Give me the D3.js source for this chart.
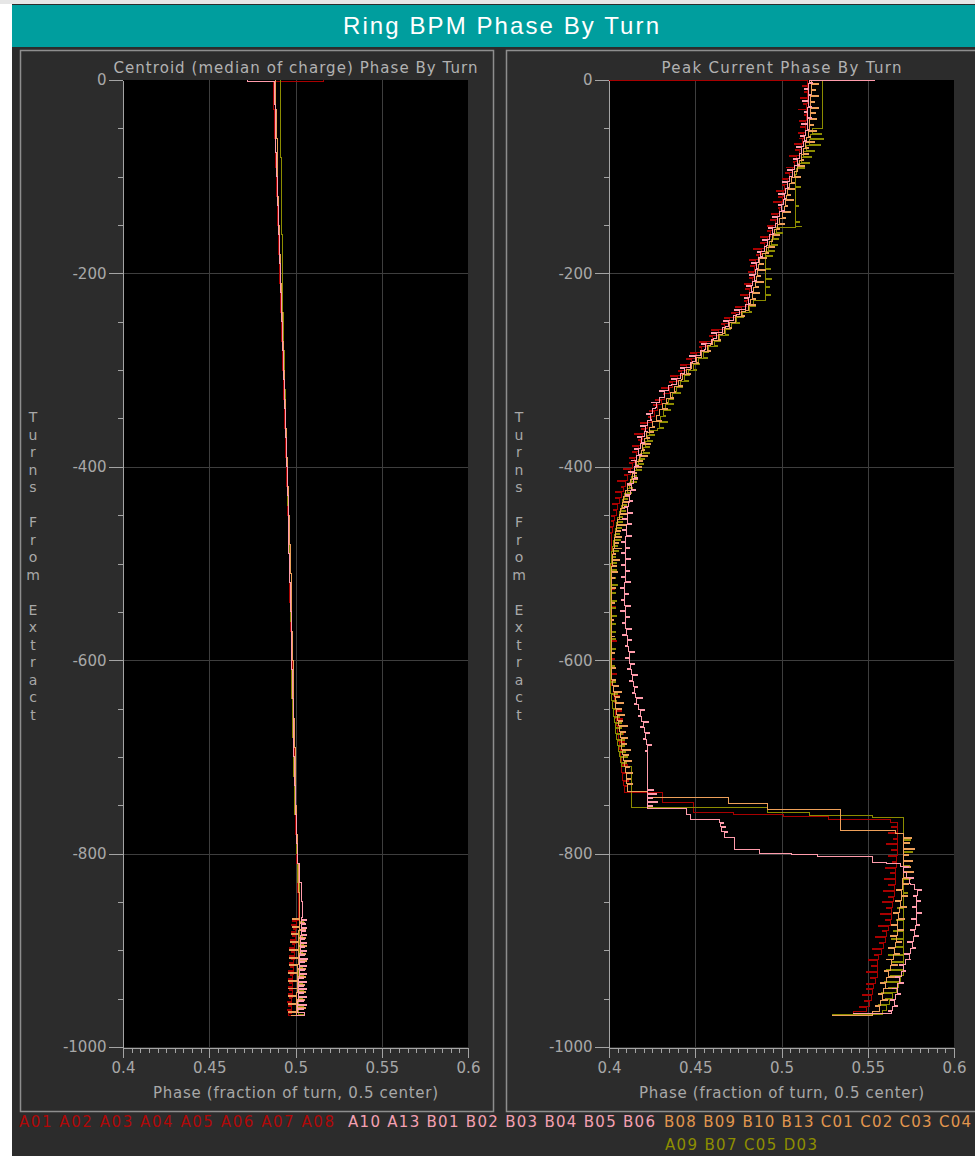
<!DOCTYPE html>
<html>
<head>
<meta charset="utf-8">
<script src="https://cdn.jsdelivr.net/npm/d3@7"></script>
<style>
  body { margin: 0; background: #ffffff; }
  svg { display: block; }
</style>
</head>
<body>
<svg id="chart" width="975" height="1156"></svg>
<script>
// ---- Labels ----
const mainTitle = "Ring BPM Phase By Turn";
const panelTitles = ["Centroid (median of charge) Phase By Turn", "Peak Current Phase By Turn"];
const xAxisTitle = "Phase (fraction of turn, 0.5 center)";
const yAxisTitle = "Turns From Extract";
const phaseTicks = [0.4, 0.45, 0.5, 0.55, 0.6];
const turnTicks = [0, -200, -400, -600, -800, -1000];

// ---- BPM groups (legend) ----
const redBpms = ["A01", "A02", "A03", "A04", "A05", "A06", "A07", "A08"];
const pinkBpms = ["A10", "A13", "B01", "B02", "B03", "B04", "B05", "B06"];
const orangeBpms = ["B08", "B09", "B10", "B13", "C01", "C02", "C03", "C04"];
const oliveBpms = ["A09", "B07", "C05", "D03"];

// ---- Centroid phase by turn: [turn, phase], each phase held until the next listed turn ----
const centroidRed = [[0,.516],[-2,.4872],[-30,.4876],[-60,.4882],[-90,.4888],[-120,.4894],[-150,.4900],[-180,.4906],[-210,.4912],[-240,.4918],[-270,.4925],[-300,.4932],[-330,.4938],[-360,.4944],[-390,.4950],[-420,.4955],[-450,.4960],[-480,.4964],[-510,.4968],[-540,.4972],[-570,.4976],[-600,.4980],[-630,.4984],[-660,.4988],[-690,.4992],[-720,.4997],[-750,.5002],[-780,.5007],[-810,.5012],[-840,.5016],[-866,.5015],[-869,.4985],[-870,.5005],[-873,.4975],[-874,.5005],[-877,.499],[-878,.5],[-881,.4975],[-882,.5],[-885,.4985],[-886,.4998],[-889,.497],[-890,.4998],[-893,.498],[-894,.4995],[-897,.4968],[-898,.4995],[-901,.4978],[-902,.4993],[-905,.4965],[-906,.4993],[-909,.4975],[-910,.499],[-913,.4963],[-914,.499],[-917,.4972],[-918,.4988],[-921,.4962],[-922,.4988],[-925,.497],[-926,.4985],[-929,.496],[-930,.4985],[-933,.4968],[-934,.4983],[-937,.4958],[-938,.4983],[-941,.4966],[-942,.498],[-945,.4957],[-946,.498],[-949,.4965],[-950,.4978],[-953,.4956],[-954,.4978],[-957,.4962],[-958,.4975],[-961,.4956],[-962,.4975],[-965,.496],[-967,.4985]];
const centroidPink = [[0,.4719],[-2,.4878],[-25,.4882],[-50,.4886],[-75,.4890],[-100,.4895],[-130,.4900],[-160,.4906],[-190,.4912],[-220,.4918],[-250,.4924],[-280,.4930],[-310,.4936],[-340,.4942],[-370,.4948],[-400,.4954],[-430,.4958],[-460,.4962],[-490,.4967],[-520,.4971],[-550,.4975],[-580,.4979],[-610,.4983],[-640,.4987],[-670,.4991],[-700,.4995],[-730,.5000],[-760,.5006],[-790,.5012],[-810,.5024],[-830,.5032],[-850,.5038],[-866,.5035],[-868,.5062],[-869,.5035],[-872,.5058],[-873,.5034],[-876,.5066],[-877,.5033],[-880,.5056],[-881,.5032],[-884,.5064],[-885,.5031],[-888,.5055],[-889,.503],[-892,.5066],[-893,.5029],[-896,.5054],[-897,.5028],[-900,.5065],[-901,.5027],[-904,.5053],[-905,.5026],[-908,.5067],[-909,.5025],[-912,.5052],[-913,.5024],[-916,.5066],[-917,.5023],[-920,.505],[-921,.5022],[-924,.5065],[-925,.5021],[-928,.5049],[-929,.502],[-932,.5064],[-933,.5019],[-936,.5047],[-937,.5018],[-940,.5063],[-941,.5017],[-944,.5046],[-945,.5016],[-948,.5062],[-949,.5015],[-952,.5045],[-953,.5014],[-956,.5061],[-957,.5013],[-960,.5044],[-961,.5012],[-964,.5055],[-967,.5005]];
const centroidOrange = [[0,.4885],[-30,.4888],[-60,.4893],[-90,.4898],[-120,.4903],[-150,.4908],[-180,.4914],[-210,.4920],[-240,.4926],[-270,.4932],[-300,.4938],[-330,.4944],[-360,.4950],[-390,.4955],[-420,.4960],[-450,.4965],[-480,.4970],[-510,.4974],[-540,.4978],[-570,.4982],[-600,.4986],[-630,.4990],[-660,.4994],[-690,.4998],[-720,.5002],[-750,.5007],[-780,.5012],[-810,.5017],[-840,.5022],[-866,.5024],[-867,.4985],[-868,.5022],[-871,.5055],[-872,.5022],[-875,.498],[-876,.5021],[-879,.506],[-880,.502],[-883,.4975],[-884,.502],[-887,.5058],[-888,.5019],[-891,.497],[-892,.5018],[-895,.5062],[-896,.5018],[-899,.4968],[-900,.5017],[-903,.5057],[-904,.5016],[-907,.4965],[-908,.5015],[-911,.5062],[-912,.5015],[-915,.4963],[-916,.5014],[-919,.5056],[-920,.5013],[-923,.4962],[-924,.5012],[-927,.506],[-928,.5011],[-931,.496],[-932,.501],[-935,.5055],[-936,.501],[-939,.4958],[-940,.5009],[-943,.5058],[-944,.5008],[-947,.4957],[-948,.5007],[-951,.5054],[-952,.5006],[-955,.4957],[-956,.5005],[-959,.5056],[-960,.5004],[-963,.4958],[-964,.5003],[-967,.4975]];
const centroidOlive = [[0,.4915],[-40,.4915],[-80,.4918],[-120,.4920],[-160,.4922],[-200,.4925],[-240,.4930],[-280,.4935],[-320,.4940],[-360,.4946],[-400,.4952],[-440,.4958],[-480,.4964],[-520,.4969],[-560,.4974],[-600,.4979],[-640,.4984],[-680,.4989],[-720,.4994],[-760,.5003],[-800,.5012],[-830,.5022],[-866,.5026],[-870,.5045],[-871,.5026],[-878,.505],[-879,.5025],[-886,.5043],[-887,.5024],[-894,.5048],[-895,.5023],[-902,.5042],[-903,.5022],[-910,.5047],[-911,.5021],[-918,.5041],[-919,.502],[-926,.5046],[-927,.5019],[-934,.504],[-935,.5018],[-942,.5045],[-943,.5017],[-950,.5039],[-951,.5016],[-958,.5044],[-959,.5015],[-966,.505]];

// ---- Peak current phase by turn: [turn, phase], each phase held until the next listed turn ----
const peakRed = [[0,.400],[-1,.5153],[-6,.5121],[-7,.5151],[-12,.5134],[-13,.5149],[-18,.5108],[-19,.5148],[-24,.5127],[-25,.5147],[-30,.51],[-31,.5145],[-36,.5134],[-37,.5144],[-42,.5107],[-43,.5142],[-48,.5113],[-49,.5138],[-54,.51],[-55,.513],[-60,.5107],[-61,.5122],[-66,.5074],[-67,.5114],[-72,.5082],[-73,.5102],[-78,.5044],[-79,.5089],[-84,.5067],[-85,.5077],[-90,.5028],[-91,.5063],[-96,.5023],[-97,.5048],[-102,.5003],[-103,.5033],[-108,.5003],[-109,.5018],[-114,.4971],[-115,.5011],[-120,.4985],[-121,.5005],[-126,.4953],[-127,.4998],[-132,.4981],[-133,.4991],[-138,.4942],[-139,.4977],[-144,.4939],[-145,.4964],[-150,.492],[-151,.495],[-156,.4919],[-157,.4934],[-162,.4878],[-163,.4918],[-168,.4881],[-169,.4901],[-174,.4838],[-175,.4883],[-180,.4854],[-181,.4864],[-186,.4815],[-187,.485],[-192,.4819],[-193,.4844],[-198,.4808],[-199,.4838],[-204,.4816],[-205,.4831],[-210,.4783],[-211,.4823],[-216,.4794],[-217,.4814],[-222,.476],[-223,.4805],[-228,.4787],[-229,.4797],[-234,.4735],[-235,.477],[-240,.4709],[-241,.4734],[-246,.467],[-247,.47],[-252,.4652],[-253,.4667],[-258,.4594],[-259,.4634],[-264,.4581],[-265,.4601],[-270,.4523],[-271,.4568],[-276,.4525],[-277,.4535],[-282,.4471],[-283,.4506],[-288,.4452],[-289,.4477],[-294,.4417],[-295,.4447],[-300,.4403],[-301,.4418],[-306,.4355],[-307,.4395],[-312,.4351],[-313,.4371],[-318,.4303],[-319,.4348],[-324,.4314],[-325,.4324],[-330,.4269],[-331,.4304],[-336,.4259],[-337,.4284],[-342,.4234],[-343,.4264],[-348,.4229],[-349,.4244],[-354,.4185],[-355,.4225],[-360,.4186],[-361,.4206],[-366,.4149],[-367,.4194],[-372,.4173],[-373,.4183],[-378,.4137],[-379,.4172],[-384,.4135],[-385,.416],[-390,.4118],[-391,.4148],[-396,.4121],[-397,.4136],[-402,.4084],[-403,.4124],[-408,.409],[-409,.411],[-414,.4052],[-415,.4097],[-420,.4074],[-421,.4084],[-426,.4035],[-427,.407],[-432,.4035],[-433,.406],[-438,.4021],[-439,.4051],[-444,.4027],[-445,.4042],[-450,.4013],[-451,.4033],[-456,.4012],[-457,.4027],[-462,.4008],[-463,.4021],[-468,.4005],[-469,.4017],[-474,.4012],[-490,.4035],[-491,.4012],[-508,.4045],[-509,.4012],[-526,.403],[-527,.401],[-544,.404],[-545,.401],[-562,.403],[-563,.401],[-580,.4045],[-581,.4012],[-598,.403],[-599,.4012],[-614,.4045],[-615,.4015],[-626,.405],[-627,.4025],[-636,.406],[-637,.403],[-644,.407],[-645,.4035],[-652,.4075],[-653,.404],[-660,.408],[-661,.4045],[-668,.408],[-669,.405],[-676,.4085],[-677,.4055],[-684,.409],[-685,.406],[-692,.4095],[-693,.4065],[-700,.41],[-701,.407],[-708,.4105],[-709,.4075],[-716,.411],[-717,.408],[-724,.4115],[-725,.4085],[-730,.411],[-731,.409],[-737,.431],[-747,.449],[-757,.472],[-760,.501],[-762,.527],[-765,.563],[-768,.567],[-772,.564],[-773,.567],[-778,.562],[-779,.567],[-784,.565],[-785,.567],[-790,.561],[-791,.567],[-796,.564],[-797,.567],[-802,.562],[-803,.5665],[-808,.5645],[-809,.5665],[-814,.5605],[-815,.566],[-820,.563],[-821,.566],[-826,.5595],[-827,.566],[-832,.562],[-833,.5655],[-838,.559],[-839,.5655],[-844,.562],[-845,.565],[-850,.5585],[-851,.5645],[-856,.561],[-857,.564],[-862,.5575],[-863,.5635],[-868,.560],[-869,.563],[-874,.556],[-875,.562],[-880,.5585],[-881,.561],[-886,.5545],[-887,.560],[-892,.557],[-893,.559],[-898,.553],[-899,.558],[-904,.554],[-905,.5565],[-910,.5505],[-911,.5555],[-916,.552],[-917,.5555],[-922,.549],[-923,.5555],[-928,.5515],[-929,.5545],[-934,.549],[-935,.5535],[-940,.5495],[-941,.5525],[-946,.547],[-947,.552],[-952,.548],[-953,.551],[-958,.5455],[-959,.549],[-963,.5415],[-967,.529]];
const peakPink = [[0,.554],[-1,.5165],[-3,.5179],[-4,.5159],[-9,.5132],[-10,.5157],[-15,.517],[-16,.5155],[-21,.5124],[-22,.5154],[-27,.5173],[-28,.5153],[-33,.5131],[-34,.5151],[-39,.5175],[-40,.515],[-45,.5118],[-46,.5148],[-51,.5156],[-52,.5141],[-57,.5108],[-58,.5133],[-63,.5145],[-64,.5125],[-69,.5085],[-70,.5115],[-75,.5118],[-76,.5103],[-81,.507],[-82,.509],[-87,.5102],[-88,.5077],[-93,.5033],[-94,.5063],[-99,.5063],[-100,.5048],[-105,.5008],[-106,.5033],[-111,.5041],[-112,.5021],[-117,.4985],[-118,.5015],[-123,.5024],[-124,.5009],[-129,.4982],[-130,.5002],[-135,.5016],[-136,.4991],[-141,.4948],[-142,.4978],[-147,.4979],[-148,.4964],[-153,.4924],[-154,.4949],[-159,.4953],[-160,.4933],[-165,.4887],[-166,.4917],[-171,.4914],[-172,.4899],[-177,.4861],[-178,.4881],[-183,.4889],[-184,.4864],[-189,.4824],[-190,.4854],[-195,.4863],[-196,.4848],[-201,.4817],[-202,.4842],[-207,.4854],[-208,.4834],[-213,.4795],[-214,.4825],[-219,.4832],[-220,.4817],[-225,.4788],[-226,.4808],[-231,.4815],[-232,.479],[-237,.4729],[-238,.4759],[-243,.4739],[-244,.4724],[-249,.4665],[-250,.469],[-255,.4678],[-256,.4658],[-261,.4595],[-262,.4625],[-267,.4607],[-268,.4592],[-273,.4539],[-274,.4559],[-279,.4553],[-280,.4528],[-285,.4469],[-286,.4499],[-291,.4485],[-292,.447],[-297,.4415],[-298,.444],[-303,.4434],[-304,.4414],[-309,.436],[-310,.439],[-315,.436],[-316,.4345],[-321,.4295],[-322,.432],[-327,.432],[-328,.4295],[-333,.4245],[-334,.4275],[-339,.427],[-340,.4255],[-345,.4215],[-346,.424],[-351,.4245],[-352,.4225],[-357,.418],[-358,.421],[-363,.4225],[-364,.4205],[-369,.4165],[-370,.419],[-375,.4205],[-376,.418],[-381,.415],[-382,.417],[-387,.419],[-388,.416],[-393,.413],[-394,.4155],[-399,.417],[-400,.415],[-405,.4115],[-406,.4145],[-411,.4165],[-412,.414],[-417,.411],[-418,.413],[-423,.4155],[-424,.4125],[-429,.4095],[-430,.412],[-435,.4135],[-436,.4115],[-441,.409],[-442,.411],[-447,.4138],[-448,.4108],[-453,.408],[-454,.4105],[-459,.4128],[-460,.4103],[-465,.408],[-466,.410],[-471,.4128],[-472,.4098],[-477,.4072],[-478,.4097],[-483,.4116],[-484,.4096],[-489,.4075],[-490,.4095],[-495,.4125],[-496,.4095],[-501,.407],[-502,.4095],[-507,.4119],[-508,.4094],[-513,.4073],[-514,.4093],[-519,.4122],[-520,.4092],[-525,.4066],[-526,.4091],[-531,.4111],[-532,.4091],[-537,.4072],[-538,.4092],[-543,.4123],[-544,.4093],[-549,.4069],[-550,.4094],[-555,.412],[-556,.4095],[-561,.4078],[-562,.4098],[-567,.4132],[-568,.4102],[-573,.4081],[-574,.4106],[-579,.413],[-580,.411],[-585,.4093],[-586,.4113],[-591,.4146],[-592,.4116],[-597,.4094],[-598,.4119],[-603,.4148],[-604,.4123],[-609,.4109],[-610,.4129],[-615,.4165],[-616,.4135],[-621,.4116],[-622,.4141],[-627,.4168],[-628,.4148],[-633,.4135],[-634,.4155],[-639,.4192],[-640,.4162],[-645,.4147],[-646,.4172],[-651,.4206],[-652,.4181],[-657,.417],[-658,.419],[-663,.4229],[-664,.4199],[-669,.4181],[-670,.4206],[-675,.4233],[-676,.4213],[-681,.42],[-682,.422],[-687,.4247],[-688,.4222],[-693,.4209],[-694,.4224],[-697,.4226],[-734,.426],[-735,.4226],[-738,.4275],[-739,.4226],[-742,.425],[-743,.4226],[-746,.428],[-747,.4226],[-750,.425],[-751,.4226],[-753,.445],[-760,.447],[-765,.4643],[-768,.4665],[-769,.4645],[-772,.4675],[-773,.4655],[-777,.4685],[-778,.467],[-783,.473],[-796,.4875],[-800,.506],[-801,.521],[-803,.553],[-809,.561],[-810,.5687],[-813,.5735],[-814,.5705],[-819,.5705],[-820,.5725],[-825,.5765],[-826,.574],[-831,.5745],[-832,.577],[-837,.581],[-838,.579],[-843,.5765],[-844,.5785],[-849,.5805],[-850,.5785],[-855,.576],[-856,.5785],[-861,.581],[-862,.578],[-867,.5755],[-868,.578],[-873,.580],[-874,.5775],[-879,.575],[-880,.577],[-885,.5795],[-886,.5765],[-891,.573],[-892,.576],[-897,.5775],[-898,.575],[-903,.5715],[-904,.574],[-909,.575],[-910,.572],[-915,.5685],[-916,.571],[-921,.572],[-922,.5695],[-927,.566],[-928,.5685],[-933,.5705],[-934,.5675],[-939,.5645],[-940,.567],[-945,.569],[-946,.566],[-951,.563],[-952,.5655],[-957,.567],[-958,.5645],[-962,.562],[-963,.5635],[-965,.5415]];
const peakOrange = [[0,.5175],[-4,.5214],[-5,.5174],[-10,.5197],[-11,.5172],[-16,.5215],[-17,.517],[-22,.5189],[-23,.5169],[-28,.5217],[-29,.5167],[-34,.5196],[-35,.5166],[-40,.5204],[-41,.5164],[-46,.5187],[-47,.5162],[-52,.52],[-53,.5155],[-58,.5167],[-59,.5147],[-64,.5189],[-65,.5139],[-70,.5158],[-71,.5128],[-76,.5155],[-77,.5115],[-82,.5128],[-83,.5103],[-88,.5135],[-89,.509],[-94,.5095],[-95,.5075],[-100,.511],[-101,.506],[-106,.5075],[-107,.5045],[-112,.5075],[-113,.5035],[-118,.5054],[-119,.5029],[-124,.5067],[-125,.5022],[-130,.5035],[-131,.5015],[-136,.5054],[-137,.5004],[-142,.5021],[-143,.4991],[-148,.5017],[-149,.4977],[-154,.4986],[-155,.4961],[-160,.499],[-161,.4945],[-166,.4949],[-167,.4929],[-172,.4961],[-173,.4911],[-178,.4922],[-179,.4892],[-184,.4914],[-185,.4874],[-190,.4893],[-191,.4868],[-196,.4907],[-197,.4862],[-202,.4876],[-203,.4856],[-208,.4898],[-209,.4848],[-214,.4869],[-215,.4839],[-220,.487],[-221,.483],[-226,.4847],[-227,.4822],[-232,.4851],[-233,.4806],[-238,.479],[-239,.477],[-244,.4784],[-245,.4734],[-250,.4731],[-251,.4701],[-256,.4708],[-257,.4668],[-262,.466],[-263,.4635],[-268,.4647],[-269,.4602],[-274,.4589],[-275,.4569],[-280,.4588],[-281,.4538],[-286,.4539],[-287,.4509],[-292,.4519],[-293,.4479],[-298,.4475],[-299,.445],[-304,.447],[-305,.4425],[-310,.4421],[-311,.4401],[-316,.4428],[-317,.4378],[-322,.4384],[-323,.4354],[-328,.4373],[-329,.4333],[-334,.4338],[-335,.4313],[-340,.4338],[-341,.4293],[-346,.4293],[-347,.4273],[-352,.4304],[-353,.4254],[-358,.4265],[-359,.4235],[-364,.4259],[-365,.4219],[-370,.4233],[-371,.4208],[-376,.4242],[-377,.4197],[-382,.4206],[-383,.4186],[-388,.4224],[-389,.4174],[-394,.4192],[-395,.4162],[-400,.419],[-401,.415],[-406,.4161],[-407,.4136],[-412,.4168],[-413,.4123],[-418,.413],[-419,.411],[-424,.4146],[-425,.4096],[-430,.4115],[-431,.4085],[-436,.4116],[-437,.4076],[-442,.4092],[-443,.4067],[-448,.4103],[-449,.4058],[-454,.407],[-455,.405],[-460,.4094],[-461,.4044],[-466,.4068],[-467,.4038],[-472,.4074],[-473,.4034],[-478,.4055],[-479,.403],[-484,.407],[-485,.4025],[-490,.404],[-491,.402],[-496,.4058],[-497,.4018],[-502,.4045],[-503,.4015],[-508,.4048],[-509,.4013],[-514,.4032],[-515,.4012],[-525,.4035],[-526,.4012],[-540,.403],[-541,.4012],[-558,.4025],[-559,.4012],[-575,.403],[-576,.4012],[-592,.403],[-593,.4012],[-608,.4035],[-609,.4015],[-620,.404],[-621,.402],[-626,.4055],[-627,.4025],[-632,.407],[-633,.403],[-638,.406],[-639,.4035],[-644,.4085],[-645,.404],[-650,.4075],[-651,.4045],[-656,.409],[-657,.405],[-662,.408],[-663,.4055],[-668,.4105],[-669,.406],[-674,.4095],[-675,.4065],[-680,.411],[-681,.407],[-686,.41],[-687,.4075],[-692,.4125],[-693,.408],[-698,.4115],[-699,.4085],[-704,.413],[-705,.409],[-710,.412],[-711,.4095],[-716,.4135],[-717,.410],[-722,.4123],[-723,.4103],[-728,.4135],[-729,.4105],[-736,.4226],[-742,.469],[-748,.4916],[-754,.534],[-776,.566],[-779,.5705],[-783,.5755],[-784,.5705],[-789,.574],[-790,.5705],[-795,.577],[-796,.5705],[-801,.5735],[-802,.5705],[-807,.576],[-808,.5705],[-813,.5745],[-814,.5705],[-819,.5765],[-820,.5705],[-825,.5735],[-826,.570],[-831,.5735],[-832,.570],[-837,.5665],[-838,.5695],[-843,.573],[-844,.5695],[-849,.566],[-850,.569],[-855,.5725],[-856,.5685],[-861,.565],[-862,.568],[-867,.5715],[-868,.5675],[-873,.564],[-874,.567],[-879,.5705],[-880,.567],[-885,.563],[-886,.5665],[-891,.5695],[-892,.566],[-897,.562],[-898,.5655],[-903,.5685],[-904,.565],[-909,.561],[-910,.564],[-915,.5675],[-916,.563],[-921,.5595],[-922,.562],[-927,.5655],[-928,.561],[-933,.5575],[-934,.560],[-939,.5635],[-940,.559],[-945,.556],[-946,.5585],[-951,.5615],[-952,.5575],[-957,.5545],[-958,.557],[-963,.553],[-967,.529]];
const peakOlive = [[0,.5235],[-49,.5235],[-50,.518],[-55,.523],[-56,.517],[-61,.5245],[-62,.516],[-67,.5225],[-68,.5145],[-73,.519],[-74,.513],[-79,.5175],[-80,.5115],[-85,.516],[-86,.510],[-91,.5135],[-92,.5085],[-98,.508],[-110,.511],[-111,.508],[-130,.510],[-131,.508],[-146,.5105],[-147,.508],[-151,.5115],[-152,.508],[-153,.497],[-158,.5005],[-159,.4955],[-164,.4985],[-165,.494],[-170,.4975],[-171,.4925],[-176,.496],[-177,.491],[-182,.4945],[-183,.4905],[-195,.4935],[-196,.4905],[-205,.494],[-206,.4905],[-214,.493],[-215,.4905],[-222,.4935],[-223,.4905],[-228,.4839],[-233,.4852],[-234,.4812],[-239,.4826],[-240,.4776],[-245,.4777],[-246,.4742],[-251,.4759],[-252,.4709],[-257,.4706],[-258,.4676],[-263,.4693],[-264,.4643],[-269,.4645],[-270,.461],[-275,.4627],[-276,.4577],[-281,.4578],[-282,.4548],[-287,.4569],[-288,.4519],[-293,.4524],[-294,.4489],[-299,.451],[-300,.446],[-305,.4467],[-306,.4437],[-311,.4463],[-312,.4413],[-317,.4425],[-318,.439],[-323,.4416],[-324,.4366],[-329,.4376],[-330,.4346],[-335,.4376],[-336,.4326],[-341,.4355],[-342,.4315],[-347,.433],[-348,.430],[-353,.434],[-354,.429],[-359,.4314],[-360,.4284],[-362,.4235],[-367,.4265],[-368,.4225],[-373,.4252],[-374,.4212],[-379,.4235],[-380,.420],[-385,.4235],[-386,.4185],[-391,.4207],[-392,.4172],[-397,.420],[-398,.416],[-403,.4186],[-404,.4146],[-409,.4162],[-410,.4132],[-415,.4158],[-416,.4118],[-421,.4135],[-422,.4105],[-427,.4132],[-428,.4092],[-433,.411],[-434,.408],[-439,.410],[-440,.407],[-445,.4095],[-446,.406],[-451,.408],[-452,.405],[-457,.4077],[-458,.4042],[-463,.407],[-464,.4035],[-469,.406],[-470,.403],[-475,.4065],[-476,.4025],[-481,.405],[-482,.402],[-487,.4055],[-488,.4015],[-493,.404],[-494,.4012],[-499,.4045],[-500,.401],[-506,.4045],[-507,.401],[-514,.4035],[-515,.401],[-522,.405],[-523,.401],[-530,.404],[-531,.401],[-538,.4045],[-539,.401],[-546,.4035],[-547,.401],[-554,.4045],[-555,.401],[-562,.404],[-563,.401],[-570,.4035],[-571,.401],[-578,.404],[-579,.401],[-588,.4035],[-589,.401],[-605,.403],[-606,.401],[-622,.4035],[-623,.401],[-634,.405],[-635,.4015],[-642,.4045],[-643,.402],[-650,.4055],[-651,.4025],[-658,.406],[-659,.403],[-664,.407],[-665,.4035],[-670,.4075],[-671,.404],[-676,.408],[-677,.4045],[-682,.409],[-683,.405],[-688,.409],[-689,.4055],[-694,.4095],[-695,.406],[-700,.4105],[-701,.4065],[-706,.410],[-707,.407],[-710,.4133],[-752,.492],[-758,.5165],[-761,.5525],[-763,.5705],[-785,.575],[-786,.5705],[-798,.576],[-799,.5705],[-812,.574],[-813,.5705],[-826,.5745],[-827,.5705],[-840,.573],[-841,.5705],[-856,.567],[-857,.5705],[-868,.5665],[-869,.5705],[-880,.565],[-881,.5705],[-888,.5635],[-889,.5705],[-896,.566],[-897,.5705],[-904,.562],[-905,.5705],[-912,.5645],[-913,.5705],[-920,.561],[-921,.5705],[-926,.563],[-927,.569],[-932,.5595],[-933,.568],[-938,.562],[-939,.5665],[-944,.558],[-945,.5645],[-950,.560],[-951,.5625],[-956,.5565],[-957,.561],[-962,.5585],[-966,.529]];

// ---- Colours ----
const colors = { red: "#a80000", pink: "#ff9cac", orange: "#eda05a", olive: "#8c8c00" };
const legendColors = { red: "#b00808", pink: "#f4a0b2", orange: "#e2964e", olive: "#8e8e00" };

const FONT = "'DejaVu Sans', Verdana, sans-serif";
const svg = d3.select("#chart");

// window background, dark canvas, title bar
svg.append("rect").attr("width", 975).attr("height", 1156).attr("fill", "#ffffff");
svg.append("rect").attr("x", 0).attr("y", 0).attr("width", 975).attr("height", 4).attr("fill", "#e6e6e6");
svg.append("rect").attr("x", 12).attr("y", 4).attr("width", 963).attr("height", 1152).attr("fill", "#2c2c2c");
svg.append("rect").attr("x", 12).attr("y", 5).attr("width", 963).attr("height", 42).attr("fill", "#009e9e");
svg.append("text")
  .attr("x", 501).attr("y", 34)
  .attr("text-anchor", "middle")
  .attr("font-family", "'Liberation Sans', Arial, sans-serif")
  .attr("font-size", 24)
  .attr("textLength", 316).attr("lengthAdjust", "spacing")
  .attr("fill", "#ffffff")
  .text(mainTitle);

const panels = [
  { title: panelTitles[0], titleLen: 364, left: 123, boxX: 20, boxW: 473,
    series: [[centroidRed, "red"], [centroidOlive, "olive"], [centroidOrange, "orange"], [centroidPink, "pink"]] },
  { title: panelTitles[1], titleLen: 240, left: 609, boxX: 506, boxW: 500,
    series: [[peakRed, "red"], [peakOlive, "olive"], [peakOrange, "orange"], [peakPink, "pink"]] }
];

const plotW = 345, plotTop = 80, plotBottom = 1047;
const axisColor = "#a4a4a4", textColor = "#a8a8a8", gridColor = "#3e3e3e";

panels.forEach(p => {
  const g = svg.append("g");

  // panel frame
  g.append("rect")
    .attr("x", p.boxX + 0.5).attr("y", 50.5)
    .attr("width", p.boxW).attr("height", 1061)
    .attr("fill", "none").attr("stroke", "#8e8e8e").attr("stroke-width", 1.5);

  const x = d3.scaleLinear().domain([0.4, 0.6]).range([p.left, p.left + plotW]);
  const y = d3.scaleLinear().domain([0, -1000]).range([plotTop, plotBottom]);

  // plot background
  g.append("rect")
    .attr("x", x(0.4)).attr("y", y(0))
    .attr("width", x(0.6) - x(0.4)).attr("height", y(-1000) - y(0))
    .attr("fill", "#000000");

  // grid
  g.append("g").selectAll("line")
    .data(phaseTicks.filter(d => d > 0.4 && d < 0.6))
    .join("line")
    .attr("x1", d => Math.round(x(d)) + 0.5).attr("x2", d => Math.round(x(d)) + 0.5)
    .attr("y1", y(0)).attr("y2", y(-1000))
    .attr("stroke", gridColor).attr("stroke-width", 1);
  g.append("g").selectAll("line")
    .data(turnTicks.filter(d => d < 0 && d > -1000))
    .join("line")
    .attr("x1", x(0.4)).attr("x2", x(0.6))
    .attr("y1", d => Math.round(y(d)) + 0.5).attr("y2", d => Math.round(y(d)) + 0.5)
    .attr("stroke", gridColor).attr("stroke-width", 1);

  // traces: the phase is held for each turn, so the trace steps along the turn axis
  const line = d3.line()
    .x(d => x(d[1]))
    .y(d => y(d[0]))
    .curve(d3.curveStepBefore);
  p.series.forEach(([data, key]) => {
    g.append("path")
      .datum(data)
      .attr("d", line)
      .attr("fill", "none")
      .attr("stroke", colors[key])
      .attr("stroke-width", 1)
      .attr("shape-rendering", "crispEdges");
  });

  // y axis: major and minor ticks
  const yMinor = d3.range(0, -1001, -50);
  g.append("g")
    .attr("transform", `translate(${p.left - 0.5},0)`)
    .call(d3.axisLeft(y).tickValues(yMinor).tickSize(5).tickSizeOuter(0).tickFormat(""))
    .call(s => s.selectAll("line,path").attr("stroke", axisColor).attr("shape-rendering", "crispEdges"));
  g.append("g")
    .attr("transform", `translate(${p.left - 0.5},0)`)
    .call(d3.axisLeft(y).tickValues(turnTicks).tickSize(14).tickPadding(2).tickSizeOuter(0).tickFormat(d => String(d)))
    .call(s => {
      s.selectAll("line,path").attr("stroke", axisColor).attr("shape-rendering", "crispEdges");
      s.selectAll("text").attr("fill", textColor).attr("font-family", FONT).attr("font-size", 15);
    });

  // x axis: major and minor ticks
  const xMinor = d3.range(0, 41).map(i => 0.4 + i * 0.005);
  g.append("g")
    .attr("transform", `translate(0,${plotBottom + 0.5})`)
    .call(d3.axisBottom(x).tickValues(xMinor).tickSize(5).tickSizeOuter(0).tickFormat(""))
    .call(s => s.selectAll("line,path").attr("stroke", axisColor).attr("shape-rendering", "crispEdges"));
  g.append("g")
    .attr("transform", `translate(0,${plotBottom + 0.5})`)
    .call(d3.axisBottom(x).tickValues(phaseTicks).tickSize(10).tickPadding(5).tickSizeOuter(0).tickFormat(d => String(d)))
    .call(s => {
      s.selectAll("line,path").attr("stroke", axisColor).attr("shape-rendering", "crispEdges");
      s.selectAll("text").attr("fill", textColor).attr("font-family", FONT).attr("font-size", 15);
    });

  // panel title
  g.append("text")
    .attr("x", p.left + plotW / 2).attr("y", 73)
    .attr("text-anchor", "middle")
    .attr("font-family", FONT).attr("font-size", 15)
    .attr("textLength", p.titleLen).attr("lengthAdjust", "spacing")
    .attr("fill", "#b2b2b2")
    .text(p.title);

  // x axis title
  g.append("text")
    .attr("x", p.left + plotW / 2).attr("y", 1098)
    .attr("text-anchor", "middle")
    .attr("font-family", FONT).attr("font-size", 15)
    .attr("textLength", 285).attr("lengthAdjust", "spacing")
    .attr("fill", textColor)
    .text(xAxisTitle);

  // y axis title, one character per row
  g.append("g").selectAll("text")
    .data(Array.from(yAxisTitle))
    .join("text")
    .attr("x", p.boxX + 13)
    .attr("y", (d, i) => 422 + i * 17.5)
    .attr("text-anchor", "middle")
    .attr("font-family", FONT).attr("font-size", 14)
    .attr("fill", textColor)
    .text(d => d);
});

// legend rows
const legendRows = [
  { names: redBpms, key: "red", x: 19, len: 315, y: 1127 },
  { names: pinkBpms, key: "pink", x: 348, len: 307, y: 1127 },
  { names: orangeBpms, key: "orange", x: 664, len: 307, y: 1127 },
  { names: oliveBpms, key: "olive", x: 665, len: 152, y: 1150 }
];
legendRows.forEach(r => {
  svg.append("text")
    .attr("x", r.x).attr("y", r.y)
    .attr("font-family", FONT).attr("font-size", 15)
    .attr("textLength", r.len).attr("lengthAdjust", "spacing")
    .attr("fill", legendColors[r.key])
    .attr("xml:space", "preserve")
    .text(r.names.join(" "));
});
</script>
</body>
</html>
